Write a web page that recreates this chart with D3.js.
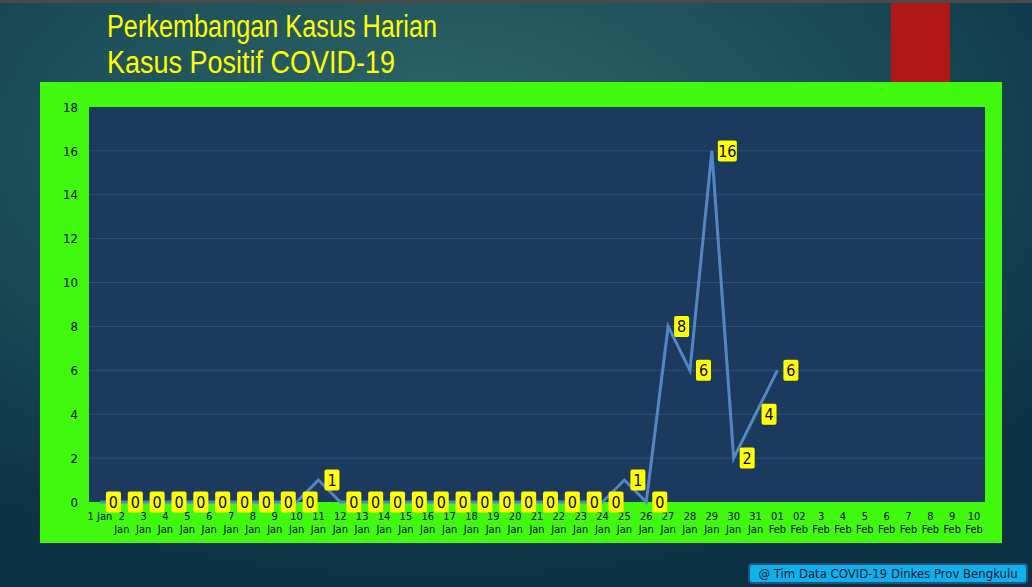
<!DOCTYPE html>
<html>
<head>
<meta charset="utf-8">
<script src="https://cdn.jsdelivr.net/npm/d3@7"></script>
<style>
  body { margin: 0; background: #123c4a; overflow: hidden; }
  svg { display: block; }
</style>
</head>
<body>
<div id="content"></div>
<script>
var width = 1032;
var height = 587;

// tick labels (x categories) and daily positive cases
var dates = ["1 Jan", "2 Jan", "3 Jan", "4 Jan", "5 Jan", "6 Jan", "7 Jan", "8 Jan", "9 Jan", "10 Jan",
    "11 Jan", "12 Jan", "13 Jan", "14 Jan", "15 Jan", "16 Jan", "17 Jan", "18 Jan", "19 Jan", "20 Jan",
    "21 Jan", "22 Jan", "23 Jan", "24 Jan", "25 Jan", "26 Jan", "27 Jan", "28 Jan", "29 Jan", "30 Jan",
    "31 Jan", "01 Feb", "02 Feb", "3 Feb", "4 Feb", "5 Feb", "6 Feb", "7 Feb", "8 Feb", "9 Feb", "10 Feb"];
var cases = [0, 0, 0, 0, 0, 0, 0, 0, 0, 0,
    1, 0, 0, 0, 0, 0, 0, 0, 0, 0,
    0, 0, 0, 0, 1, 0, 8, 6, 16, 2,
    4, 6, null, null, null, null, null, null, null, null, null];
var yTicks = [0, 2, 4, 6, 8, 10, 12, 14, 16, 18];

var titleLines = ["Perkembangan Kasus Harian", "Kasus Positif COVID-19"];
var footerText = "@ Tim Data COVID-19 Dinkes Prov Bengkulu";

var font = "'DejaVu Sans Condensed', 'Liberation Sans', sans-serif";
var titleFont = "'Liberation Sans', Arial, sans-serif";

var svg = d3.select("#content").append("svg")
    .attr("width", width)
    .attr("height", height);

var defs = svg.append("defs");
var bg = defs.append("radialGradient")
    .attr("id", "bg")
    .attr("cx", "42%").attr("cy", "25%").attr("r", "75%");
bg.append("stop").attr("offset", "0%").attr("stop-color", "#2f6868");
bg.append("stop").attr("offset", "55%").attr("stop-color", "#1b4d58");
bg.append("stop").attr("offset", "100%").attr("stop-color", "#0c3143");

svg.append("rect").attr("width", width).attr("height", height).attr("fill", "url(#bg)");
svg.append("rect").attr("width", width).attr("height", 3).attr("fill", "#4a4a4a");

// red block top right
svg.append("rect")
    .attr("x", 891).attr("y", 3)
    .attr("width", 59).attr("height", 79)
    .attr("fill", "#b01815");

// title
svg.selectAll(".title")
    .data(titleLines)
    .enter()
    .append("text")
    .attr("class", "title")
    .attr("x", 107)
    .attr("y", function (d, i) { return 37 + i * 36; })
    .attr("textLength", function (d, i) { return i === 0 ? 330 : 288; })
    .attr("lengthAdjust", "spacingAndGlyphs")
    .style("font-family", titleFont)
    .style("font-size", "31px")
    .style("fill", "#ffff00")
    .text(function (d) { return d; });

// green chart panel
svg.append("rect")
    .attr("x", 40).attr("y", 82)
    .attr("width", 962).attr("height", 461)
    .attr("fill", "#41f90f");

var margin = { top: 107, right: 985, bottom: 502, left: 89 };

svg.append("rect")
    .attr("x", margin.left).attr("y", margin.top)
    .attr("width", margin.right - margin.left)
    .attr("height", margin.bottom - margin.top)
    .attr("fill", "#1b3a5e");

var xScale = d3.scaleBand()
    .domain(dates)
    .range([margin.left, margin.right]);

var yScale = d3.scaleLinear()
    .domain([0, 18])
    .range([margin.bottom, margin.top]);

var xPos = function (d) { return xScale(d) + xScale.bandwidth() / 2; };

// gridlines
svg.append("g")
    .selectAll("line")
    .data(yTicks.filter(function (d) { return d > 0 && d < 18; }))
    .enter()
    .append("line")
    .attr("x1", margin.left).attr("x2", margin.right)
    .attr("y1", function (d) { return yScale(d); })
    .attr("y2", function (d) { return yScale(d); })
    .attr("stroke", "#2f5079")
    .attr("stroke-width", 1);

// y axis
var yAxis = svg.append("g")
    .attr("transform", "translate(" + (margin.left - 11) + ",0)")
    .call(d3.axisLeft(yScale).tickValues(yTicks).tickSize(0).tickPadding(0));
yAxis.select(".domain").remove();
yAxis.selectAll("text")
    .style("font-family", font)
    .style("font-size", "13px")
    .style("fill", "#0a0a0a");

// x axis
var xAxis = svg.append("g")
    .attr("transform", "translate(0," + margin.bottom + ")")
    .call(d3.axisBottom(xScale).tickSize(0).tickPadding(0));
xAxis.select(".domain").remove();
xAxis.selectAll("text").each(function (d, i) {
    var t = d3.select(this).text("").attr("y", 0).attr("dy", null)
        .style("font-family", font)
        .style("font-size", "11px")
        .style("fill", "#0a0a0a");
    if (i === 0) {
        t.append("tspan").attr("x", 0).attr("y", 18).text(d);
    } else {
        var parts = d.split(" ");
        t.append("tspan").attr("x", 0).attr("y", 18).text(parts[0]);
        t.append("tspan").attr("x", 0).attr("y", 31).text(parts[1]);
    }
});

// line
var points = dates.map(function (d, i) { return { date: d, value: cases[i] }; });

var line = d3.line()
    .defined(function (d) { return d.value !== null; })
    .x(function (d) { return xPos(d.date); })
    .y(function (d) { return yScale(d.value); });

svg.append("path")
    .datum(points)
    .attr("d", line)
    .attr("fill", "none")
    .attr("stroke", "#5586c4")
    .attr("stroke-width", 3)
    .attr("stroke-linejoin", "miter");

// data labels
var labels = svg.append("g")
    .selectAll("g")
    .data(points.filter(function (d) { return d.value !== null; }))
    .enter()
    .append("g")
    .attr("transform", function (d) {
        return "translate(" + (xPos(d.date) + 6) + "," + yScale(d.value) + ")";
    });

labels.append("rect")
    .attr("x", 0)
    .attr("y", -10.5)
    .attr("width", function (d) { return String(d.value).length > 1 ? 19 : 15; })
    .attr("height", 21)
    .attr("rx", 2)
    .attr("fill", "#ffff00");

labels.append("text")
    .attr("x", function (d) { return String(d.value).length > 1 ? 9.5 : 7.5; })
    .attr("y", 6)
    .attr("text-anchor", "middle")
    .style("font-family", font)
    .style("font-size", "16px")
    .style("fill", "#0a0a0a")
    .text(function (d) { return d.value; });

// footer
svg.append("rect")
    .attr("x", 749).attr("y", 564)
    .attr("width", 278).attr("height", 19)
    .attr("rx", 3)
    .attr("fill", "#0cb1ee")
    .attr("stroke", "#2e4f7a")
    .attr("stroke-width", 2);

svg.append("text")
    .attr("x", 888).attr("y", 578)
    .attr("text-anchor", "middle")
    .style("font-family", font)
    .style("font-size", "13px")
    .style("fill", "#0a1a30")
    .text(footerText);
</script>
</body>
</html>
